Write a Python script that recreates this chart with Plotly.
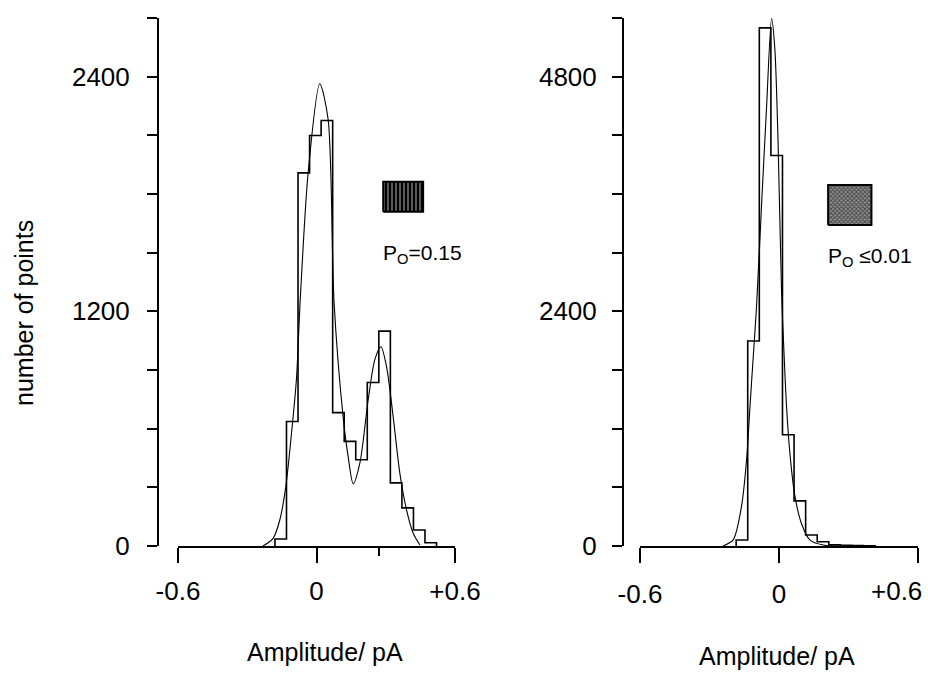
import plotly.graph_objects as go

W, H = 928, 673

# ---------------- data ----------------
# Left panel: Po = 0.15
left_bin_edges = [-0.18, -0.13, -0.08, -0.03, 0.02, 0.07, 0.12, 0.17, 0.22,
                  0.27, 0.32, 0.37, 0.42, 0.47, 0.52]
left_counts = [36, 637, 1908, 2099, 2176, 682, 535, 441, 836, 1099, 323, 195, 82, 17]
left_fit_x = [-0.232, -0.188, -0.159, -0.133, -0.108, -0.087, -0.070, -0.036, 0.014,
              0.050, 0.076, 0.115, 0.137, 0.159, 0.188, 0.224, 0.253, 0.279, 0.303,
              0.332, 0.361, 0.390, 0.419, 0.448]
left_fit_y = [0, 39, 133, 304, 579, 851, 1270, 1911, 2364,
              2185, 1249, 663, 458, 318, 425, 749, 954, 1019, 920,
              663, 373, 185, 65, 5]

# Right panel: Po <= 0.01
right_bin_edges = [-0.185, -0.135, -0.085, -0.035, 0.015, 0.065, 0.115, 0.165,
                   0.215, 0.265, 0.315, 0.365, 0.415]
right_counts = [62, 2096, 5299, 3993, 1138, 462, 113, 44, 12, 8, 5, 3]
right_fit_x = [-0.241, -0.198, -0.162, -0.140, -0.126, -0.112, -0.097, -0.075, -0.054,
               -0.032, -0.018, -0.004, 0.011, 0.022, 0.032, 0.047, 0.068, 0.097,
               0.133, 0.190, 0.300]
right_fit_y = [0, 62, 403, 882, 1395, 1908, 2450, 3500, 4472,
               5395, 5087, 4130, 2600, 1950, 1450, 950, 520, 230,
               62, 10, 0]

left_x_ticks = [-0.6, 0, 0.6]
left_x_labels = ["-0.6", "0", "+0.6"]
right_x_ticks = [-0.6, 0]
right_x_labels = ["-0.6", "0"]
right_x_end_label = "+0.6"
left_y_ticks = [0, 1200, 2400]
left_y_minor = [300, 600, 900, 1500, 1800, 2100, 2700]
right_y_ticks = [0, 2400, 4800]
right_y_minor = [600, 1200, 1800, 3000, 3600, 4200, 5400]

left_label = "P<sub>O</sub>=0.15"
right_label = "P<sub>O</sub> \u22640.01"
x_title = "Amplitude/ pA"
y_title = "number of points"

FONT = "Liberation Sans, Arial, sans-serif"
TICK_SIZE = 26


def step_outline(edges, counts):
    xs, ys = [edges[0]], [0]
    for i, c in enumerate(counts):
        xs += [edges[i], edges[i + 1]]
        ys += [c, c]
    xs.append(edges[-1])
    ys.append(0)
    return xs, ys


fig = go.Figure()

lx, ly = step_outline(left_bin_edges, left_counts)
fig.add_trace(go.Scatter(x=lx, y=ly, mode="lines", line=dict(color="black", width=1.6),
                         xaxis="x", yaxis="y", hoverinfo="skip"))
fig.add_trace(go.Scatter(x=left_fit_x, y=left_fit_y, mode="lines",
                         line=dict(color="black", width=1.1, shape="spline", smoothing=0.8),
                         xaxis="x", yaxis="y", hoverinfo="skip"))

rx, ry = step_outline(right_bin_edges, right_counts)
fig.add_trace(go.Scatter(x=rx, y=ry, mode="lines", line=dict(color="black", width=1.6),
                         xaxis="x2", yaxis="y2", hoverinfo="skip"))
fig.add_trace(go.Scatter(x=right_fit_x, y=right_fit_y, mode="lines",
                         line=dict(color="black", width=1.1, shape="spline", smoothing=0.8),
                         xaxis="x2", yaxis="y2", hoverinfo="skip"))

# patterned key boxes (decoration)
LBOX = (0.289, 0.462, 1709, 1863)
RBOX = (0.212, 0.399, 3283, 3692)
fig.add_trace(go.Scatter(
    x=[LBOX[0], LBOX[1], LBOX[1], LBOX[0], LBOX[0]],
    y=[LBOX[2], LBOX[2], LBOX[3], LBOX[3], LBOX[2]],
    mode="lines", fill="toself", line=dict(color="black", width=2),
    fillcolor="black",
    fillpattern=dict(shape="|", bgcolor="black", fgcolor="white", size=4, solidity=0.35),
    xaxis="x", yaxis="y", hoverinfo="skip"))
fig.add_trace(go.Scatter(
    x=[RBOX[0], RBOX[1], RBOX[1], RBOX[0], RBOX[0]],
    y=[RBOX[2], RBOX[2], RBOX[3], RBOX[3], RBOX[2]],
    mode="lines", fill="toself", line=dict(color="black", width=2),
    fillcolor="#777777",
    fillpattern=dict(shape="x", bgcolor="#9a9a9a", fgcolor="black", size=3, solidity=0.6),
    xaxis="x2", yaxis="y2", hoverinfo="skip"))

ydom = [1 - 546 / H, 1 - 18 / H]

axis_common = dict(showgrid=False, zeroline=False, showline=True, linecolor="black",
                   linewidth=2, ticks="outside", tickcolor="black", tickwidth=2,
                   automargin=False,
                   tickfont=dict(family=FONT, size=TICK_SIZE, color="black"))


def minor_ticks(vals, length):
    return dict(tickvals=vals, ticklen=length, tickwidth=2, tickcolor="black",
                ticks="outside", showgrid=False)


fig.update_layout(
    width=W, height=H, margin=dict(l=0, r=0, t=0, b=0, autoexpand=False),
    paper_bgcolor="white", plot_bgcolor="white", showlegend=False,
    font=dict(family=FONT, color="black"),
    xaxis=dict(domain=[178 / W, 455 / W], range=[-0.6, 0.6], anchor="y",
               tickvals=left_x_ticks, ticktext=left_x_labels, ticklen=15,
               ticklabelstandoff=6, minor=minor_ticks([0.27], 8), **axis_common),
    yaxis=dict(domain=ydom, range=[0, 2700], anchor="free", position=158 / W,
               tickvals=left_y_ticks, ticklen=10, ticklabelstandoff=12,
               minor=minor_ticks(left_y_minor, 10), **axis_common),
    xaxis2=dict(domain=[640 / W, 918 / W], range=[-0.6, 0.6], anchor="y2",
                tickvals=right_x_ticks, ticktext=right_x_labels, ticklen=15,
                ticklabelstandoff=9, minor=minor_ticks([0.6], 15), **axis_common),
    yaxis2=dict(domain=ydom, range=[0, 5400], anchor="free", position=623 / W,
                tickvals=right_y_ticks, ticklen=10, ticklabelstandoff=10,
                minor=minor_ticks(right_y_minor, 10), **axis_common),
)

ann_font = dict(family=FONT, size=25, color="black")
fig.add_annotation(text=x_title, xref="paper", yref="paper", x=325 / W, y=1 - 652 / H,
                   showarrow=False, font=ann_font, xanchor="center", yanchor="middle")
fig.add_annotation(text=x_title, xref="paper", yref="paper", x=777 / W, y=1 - 656 / H,
                   showarrow=False, font=ann_font, xanchor="center", yanchor="middle")
fig.add_annotation(text=y_title, xref="paper", yref="paper", x=24 / W, y=1 - 313 / H,
                   showarrow=False, font=ann_font, textangle=-90,
                   xanchor="center", yanchor="middle")
fig.add_annotation(text=right_x_end_label, xref="paper", yref="paper", x=924 / W,
                   y=1 - 591 / H, showarrow=False,
                   font=dict(family=FONT, size=TICK_SIZE, color="black"),
                   xanchor="right", yanchor="middle")
fig.add_annotation(text=left_label, xref="paper", yref="paper", x=381 / W, y=1 - 254 / H,
                   showarrow=False, font=dict(family=FONT, size=21, color="black"),
                   xanchor="left", yanchor="middle")
fig.add_annotation(text=right_label, xref="paper", yref="paper", x=826 / W, y=1 - 257 / H,
                   showarrow=False, font=dict(family=FONT, size=21, color="black"),
                   xanchor="left", yanchor="middle")

fig.write_html("out.html")
